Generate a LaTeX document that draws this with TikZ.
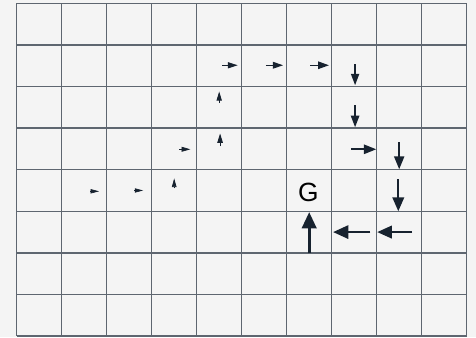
\documentclass[tikz,border=0pt]{standalone}
\usepackage{fontspec}
\setmainfont{Liberation Sans}
\usetikzlibrary{arrows.meta}
\definecolor{gridline}{HTML}{5E6670}
\definecolor{vecink}{HTML}{17222F}
\definecolor{paper}{HTML}{F4F4F4}
\begin{document}
\begin{tikzpicture}[x=0.9cm, y=-0.832cm,
            cell/.style={draw=gridline, line width=0.85pt},
            vec/.style={vecink, -{Triangle[length=3.5pt 3.5, width=0.8pt 4.5]}},
            goal/.style={font=\fontsize{15}{15}\selectfont, inner sep=0pt}
            ]
            \fill[paper] (-0.371,-0.079) rectangle (10.207,8.03);
            \useasboundingbox (-0.371,-0.079) rectangle (10.207,8.03);

            % the grid world
            \foreach \i in {0,...,10}
                \draw[cell] (\i,0) -- (\i,8);
            \foreach \j in {0,...,8}
                \draw[cell] (0,\j) -- (10,\j);

            \node[goal] (g) at (6.48,4.55) {G};

            % policy arrows
            \foreach \xa/\ya/\xb/\yb/\w in {
                4.57/1.49/4.91/1.49/0.6, 5.54/1.49/5.92/1.49/0.68,
                6.52/1.49/6.94/1.49/0.76, 7.52/1.47/7.52/1.97/0.84,
                4.50/2.40/4.50/2.12/0.48, 7.52/2.45/7.52/2.98/0.88,
                3.61/3.51/3.86/3.51/0.44, 4.52/3.44/4.52/3.13/0.52,
                7.43/3.51/7.99/3.51/1.0, 8.50/3.34/8.50/3.99/1.08,
                1.63/4.52/1.83/4.52/0.36, 2.61/4.50/2.81/4.50/0.36,
                3.50/4.45/3.50/4.21/0.4, 8.48/4.23/8.48/5.0/1.28,
                6.50/6.01/6.50/5.02/1.64, 7.86/5.50/7.03/5.50/1.48,
                8.79/5.50/8.01/5.50/1.4}
                \draw[vec, line width=\w pt] (\xa,\ya) -- (\xb,\yb);
\end{tikzpicture}
\end{document}
